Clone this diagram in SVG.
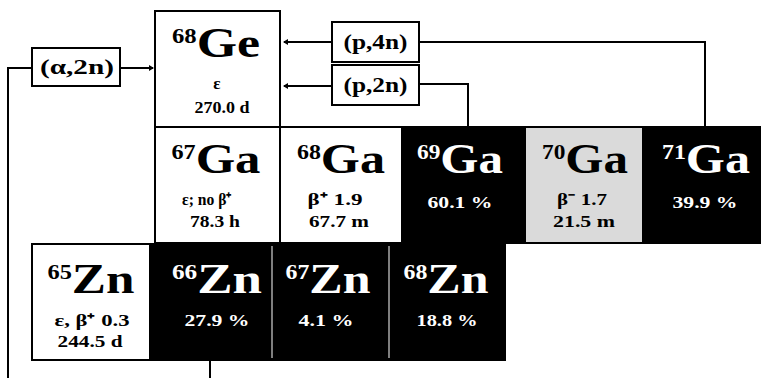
<svg xmlns="http://www.w3.org/2000/svg" width="761" height="378" viewBox="0 0 761 378">
<style>
.cell{stroke:#000;stroke-width:2}
.w{fill:#fff}
.b{fill:#000}
.g{fill:#dadada}
.big{font-family:"Liberation Serif",serif;font-weight:bold;font-size:42px;text-anchor:middle}
.sup{font-size:20px}
.sm{font-family:"Liberation Serif",serif;font-weight:bold;font-size:17px;text-anchor:middle}
.lab{font-family:"Liberation Serif",serif;font-weight:bold;font-size:20px;text-anchor:middle}
.wt{fill:#fff}
.line{fill:none;stroke:#000;stroke-width:2}
</style>
<defs>
<marker id="ah" markerWidth="6" markerHeight="6" refX="4" refY="3" orient="auto" markerUnits="userSpaceOnUse">
<path d="M0,0 L5,3 L0,6 z" fill="#000"/>
</marker>
</defs>
<rect width="761" height="378" fill="#fff"/>
<g id="connectors">
<path class="line" d="M8,378 V68 H32"/>
<path class="line" d="M120,68 H153" marker-end="url(#ah)"/>
<path class="line" d="M332,42 H284" marker-end="url(#ah)"/>
<path class="line" d="M332,86 H284" marker-end="url(#ah)"/>
<path class="line" d="M419,42 H705 V127"/>
<path class="line" d="M419,84 H468 V127"/>
<path class="line" d="M210,360 V378"/>
</g>
<g id="a2n"><rect class="cell w" x="32" y="48" width="88" height="38"/><text class="lab" x="77" y="74" textLength="74" lengthAdjust="spacingAndGlyphs">(α,2n)</text></g>
<g id="p4n"><rect class="cell w" x="332" y="22" width="87" height="40"/><text class="lab" x="375.5" y="49" textLength="64" lengthAdjust="spacingAndGlyphs">(p,4n)</text></g>
<g id="p2n"><rect class="cell w" x="332" y="65" width="87" height="40"/><text class="lab" x="375.5" y="92" textLength="64" lengthAdjust="spacingAndGlyphs">(p,2n)</text></g>
<g id="ge68"><rect class="cell w" x="155" y="11" width="125" height="116"/>
<text class="big" x="216" y="57" textLength="88" lengthAdjust="spacingAndGlyphs"><tspan class="sup" dy="-14">68</tspan><tspan dy="14">Ge</tspan></text>
<text class="sm" x="217" y="89">ε</text><text class="sm" x="222" y="113" textLength="55" lengthAdjust="spacingAndGlyphs">270.0 d</text></g>
<g id="ga67"><rect class="cell w" x="155" y="127" width="125" height="116"/>
<text class="big" x="216" y="173" textLength="89" lengthAdjust="spacingAndGlyphs"><tspan class="sup" dy="-14">67</tspan><tspan dy="14">Ga</tspan></text>
<text class="sm" x="207" y="205" textLength="50" lengthAdjust="spacingAndGlyphs">ε; no β⁺</text><text class="sm" x="215" y="227" textLength="50" lengthAdjust="spacingAndGlyphs">78.3 h</text></g>
<g id="ga68"><rect class="cell w" x="280" y="127" width="122" height="116"/>
<text class="big" x="341" y="173" textLength="88" lengthAdjust="spacingAndGlyphs"><tspan class="sup" dy="-14">68</tspan><tspan dy="14">Ga</tspan></text>
<text class="sm" x="335" y="205" textLength="55" lengthAdjust="spacingAndGlyphs">β⁺ 1.9</text><text class="sm" x="339" y="227" textLength="60" lengthAdjust="spacingAndGlyphs">67.7 m</text></g>
<g id="ga69"><rect class="cell b" x="402" y="127" width="122" height="116"/>
<text class="big wt" x="460" y="173" textLength="86" lengthAdjust="spacingAndGlyphs"><tspan class="sup" dy="-14">69</tspan><tspan dy="14">Ga</tspan></text>
<text class="sm wt" x="460" y="208" textLength="65" lengthAdjust="spacingAndGlyphs">60.1 %</text></g>
<g id="ga70"><rect class="cell g" x="525" y="127" width="118" height="116"/>
<text class="big" x="585" y="173" textLength="86" lengthAdjust="spacingAndGlyphs"><tspan class="sup" dy="-14">70</tspan><tspan dy="14">Ga</tspan></text>
<text class="sm" x="582" y="205" textLength="50" lengthAdjust="spacingAndGlyphs">β⁻ 1.7</text><text class="sm" x="584" y="227" textLength="62" lengthAdjust="spacingAndGlyphs">21.5 m</text></g>
<g id="ga71"><rect class="cell b" x="643" y="127" width="118" height="116"/>
<text class="big wt" x="706" y="173" textLength="88" lengthAdjust="spacingAndGlyphs"><tspan class="sup" dy="-14">71</tspan><tspan dy="14">Ga</tspan></text>
<text class="sm wt" x="705" y="208" textLength="65" lengthAdjust="spacingAndGlyphs">39.9 %</text></g>
<g id="zn65"><rect class="cell w" x="32" y="244" width="118" height="116"/>
<text class="big" x="91" y="293" textLength="87" lengthAdjust="spacingAndGlyphs"><tspan class="sup" dy="-14">65</tspan><tspan dy="14">Zn</tspan></text>
<text class="sm" x="92" y="326" textLength="75" lengthAdjust="spacingAndGlyphs">ε, β⁺ 0.3</text><text class="sm" x="90" y="347" textLength="65" lengthAdjust="spacingAndGlyphs">244.5 d</text></g>
<g id="zn66"><rect class="cell b" x="150" y="244" width="122" height="116"/>
<text class="big wt" x="217" y="293" textLength="90" lengthAdjust="spacingAndGlyphs"><tspan class="sup" dy="-14">66</tspan><tspan dy="14">Zn</tspan></text>
<text class="sm wt" x="217" y="326" textLength="65" lengthAdjust="spacingAndGlyphs">27.9 %</text></g>
<g id="zn67"><rect class="cell b" x="272" y="244" width="116" height="116"/>
<text class="big wt" x="328" y="293" textLength="85" lengthAdjust="spacingAndGlyphs"><tspan class="sup" dy="-14">67</tspan><tspan dy="14">Zn</tspan></text>
<text class="sm wt" x="326" y="326" textLength="55" lengthAdjust="spacingAndGlyphs">4.1 %</text></g>
<g id="zn68"><rect class="cell b" x="389" y="244" width="116" height="116"/>
<text class="big wt" x="446" y="293" textLength="85" lengthAdjust="spacingAndGlyphs"><tspan class="sup" dy="-14">68</tspan><tspan dy="14">Zn</tspan></text>
<text class="sm wt" x="447" y="326" textLength="61" lengthAdjust="spacingAndGlyphs">18.8 %</text></g>
<line x1="272" y1="246" x2="272" y2="358" stroke="#aaa" stroke-width="1.5"/>
<line x1="389" y1="246" x2="389" y2="358" stroke="#aaa" stroke-width="1.5"/>
</svg>
